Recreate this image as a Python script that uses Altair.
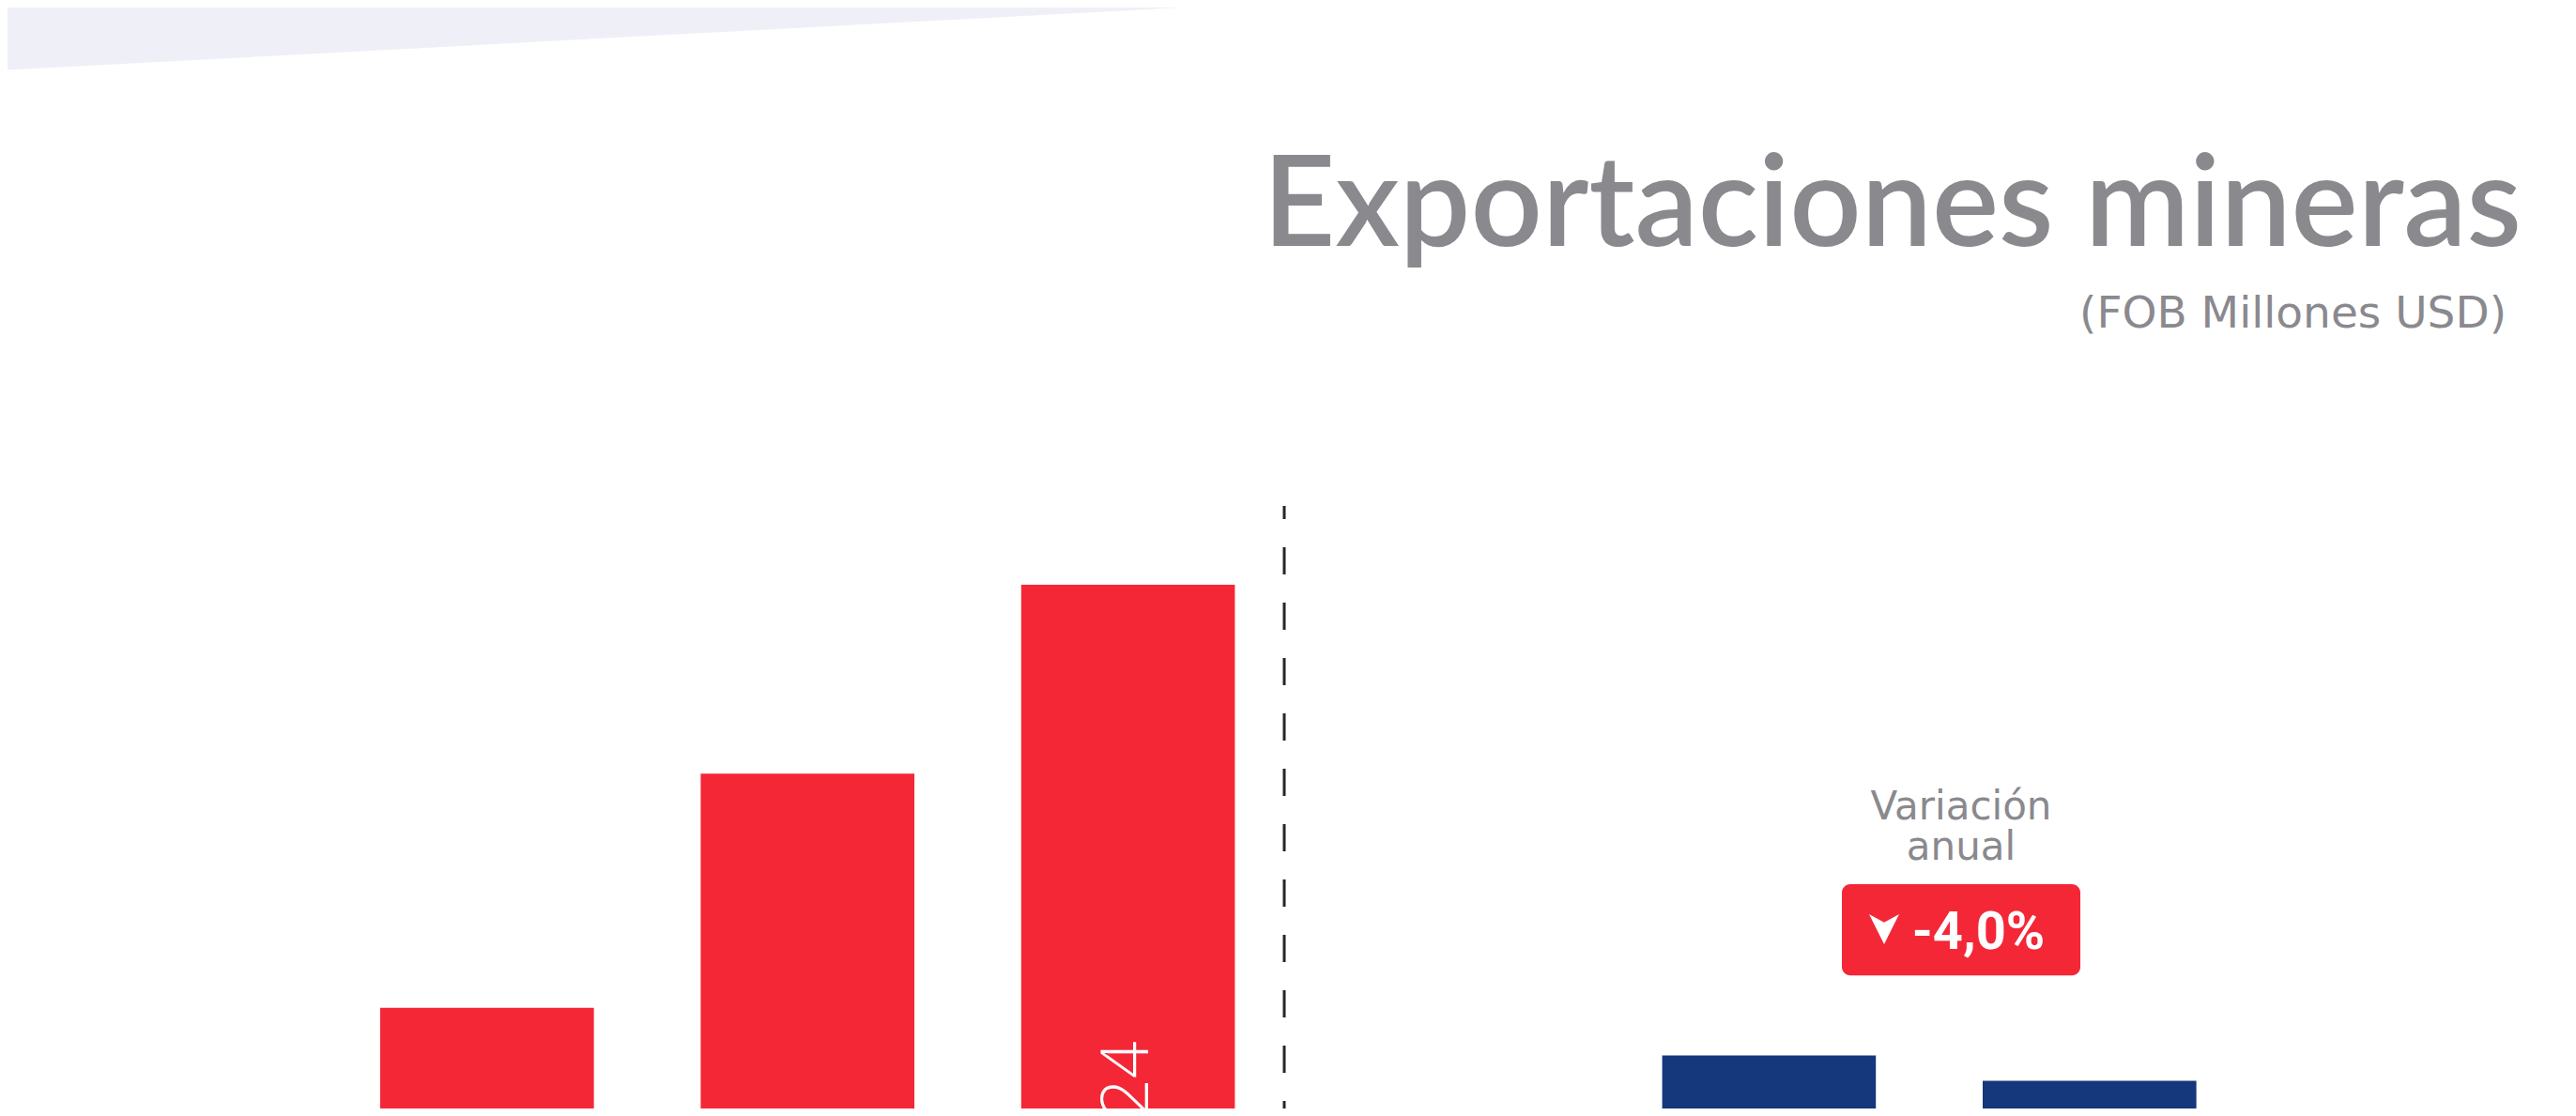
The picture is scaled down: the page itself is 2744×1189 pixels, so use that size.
import altair as alt
import pandas as pd

# ---- data ----
categories = ["2021", "2022", "2023", "Ene-Jun 2023", "Ene-Jun 2024"]
values = [1989, 2673, 3224, 1850, 1776]
bar_colors = ["#F42737", "#F42737", "#F42737", "#15377B", "#15377B"]
separator = " "
variation_label = ["-4,0%"]
variation_caption = ["Variación\nanual"]
title_text = ["Exportaciones mineras"]
subtitle_text = ["(FOB Millones USD)"]

W, H = 2728, 1173
GRAY = "#8a898e"
RED = "#F42737"
BOOK_FONT = "DejaVu Sans"

def fmt_es(v):
    return f"{v:,}".replace(",", ".")

df = pd.DataFrame({
    "cat": categories,
    "value": values,
    "color": bar_colors,
    "label": [fmt_es(v) for v in values],
})

x_domain = categories[:3] + [separator] + categories[3:]
xscale = alt.Scale(domain=x_domain, paddingInner=0.3333, paddingOuter=0, range=[397, 2331.6])
yscale = alt.Scale(domain=[1695.5, 4908.5], zero=False, nice=False)

def X(field, bp=0.5):
    return alt.X(field, scale=xscale, axis=None, sort=x_domain, bandPosition=bp)

base = alt.Chart(df)

bars = base.mark_bar(clip=True).encode(
    x=alt.X("cat:N", scale=xscale, axis=None, sort=x_domain),
    y=alt.Y("value:Q", scale=yscale, axis=None),
    y2=alt.datum(0),
    color=alt.Color("color:N", scale=None),
)

labels = base.transform_calculate(mid="datum.value / 2").mark_text(
    clip=True, angle=270, align="center", baseline="middle", dx=14,
    font="Open Sans", fontWeight=300, fontSize=70, color="white",
).encode(
    x=X("cat:N", 0.5),
    y=alt.Y("mid:Q", scale=yscale, axis=None),
    text="label:N",
)

# dashed separator between the annual bars and the period bars
sep_df = pd.DataFrame({"cat": [categories[2]], "top": [3454]})
sep_rule = alt.Chart(sep_df).mark_rule(
    clip=True, color="#262626", strokeWidth=3, strokeDash=[29, 30], strokeDashOffset=15,
    xOffset=52.6,
).encode(
    x=X("cat:N", 1),
    y=alt.Y("top:Q", scale=yscale, axis=None),
    y2=alt.datum(0),
)

# annotation: variation badge
ann_df = pd.DataFrame({
    "c1": [categories[3]], "c2": [categories[4]],
    "ytop": [2350], "ybot": [2084],
    "cap_y": [2539], "txt_y": [2161], "arrow_y": [2219],
    "caption": variation_caption, "txt": variation_label,
})
ann = alt.Chart(ann_df)
badge = ann.mark_rect(color=RED, cornerRadius=9).encode(
    x=X("c1:N", 0.841),
    x2=alt.X2("c2:N", bandPosition=0.457),
    y=alt.Y("ytop:Q", scale=yscale, axis=None),
    y2="ybot:Q",
)
badge_txt = ann.mark_text(
    align="left", baseline="alphabetic", font="Roboto", fontWeight="bold",
    fontSize=56, color="white", xOffset=38.5,
).encode(
    x=X("c1:N", 1),
    y=alt.Y("txt_y:Q", scale=yscale, axis=None),
    text="txt:N",
)
arrow = ann.mark_point(
    shape="M-1,-1L0,-0.45L1,-1L0,1Z", size=1024, filled=True, color="white", opacity=1,
    strokeWidth=0, xOffset=8.8,
).encode(
    x=X("c1:N", 1),
    y=alt.Y("arrow_y:Q", scale=yscale, axis=None),
)
caption = ann.mark_text(
    align="center", baseline="alphabetic", font=BOOK_FONT, fontWeight=400,
    fontSize=42, lineHeight=43, lineBreak="\n", color=GRAY, xOffset=-23,
).encode(
    x=X("c2:N", 0),
    y=alt.Y("cap_y:Q", scale=yscale, axis=None),
    text="caption:N",
)

# decorative lavender band in the top-left corner
deco = alt.Chart(pd.DataFrame({"k": [0]})).mark_point(
    shape="M0,0L2,0L0,0.1064Z", size=(1410) ** 2, filled=True, color="#EFF0F7",
    opacity=1, strokeWidth=0,
).encode(x=alt.value(-8), y=alt.value(-8))

title = alt.Chart(pd.DataFrame({"t": title_text})).mark_text(
    align="right", baseline="alphabetic", font="Lato", fontWeight=600,
    fontSize=134, color=GRAY,
).encode(x=alt.value(2678), y=alt.value(254), text="t:N")

subtitle = alt.Chart(pd.DataFrame({"t": subtitle_text})).mark_text(
    align="right", baseline="alphabetic", font=BOOK_FONT, fontWeight=400,
    fontSize=47, color=GRAY,
).encode(x=alt.value(2662), y=alt.value(341), text="t:N")

chart = alt.layer(
    deco, title, subtitle, bars, labels, sep_rule, caption, badge, badge_txt, arrow
).properties(
    width=W, height=H, padding=0, background="white",
    autosize=alt.AutoSizeParams(type="none"),
).configure_view(stroke=None)

chart.save("out.html", embed_options={"renderer": "svg", "actions": False})
